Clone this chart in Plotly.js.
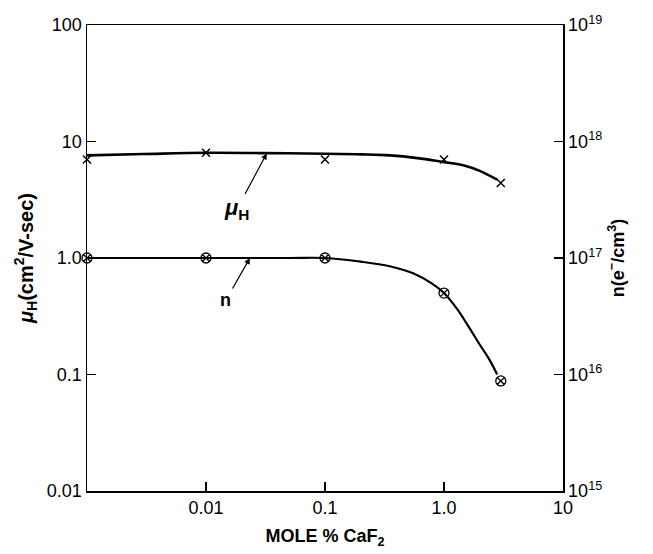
<!DOCTYPE html>
<html>
<head>
<meta charset="utf-8">
<script src="https://cdn.plot.ly/plotly-3.0.1.min.js"></script>
<style>html,body{margin:0;padding:0;background:#fff}#chart{width:653px;height:554px}</style>
</head>
<body>
<div id="chart"></div>
<script>
// Measured points (mole % CaF2)
var pointX = [0.001, 0.01, 0.1, 1.0, 3.0];
var muH = [7.0, 8.0, 7.0, 7.0, 4.4];               // cm^2/V-sec
var nE = [1.0e17, 1.0e17, 1.0e17, 5.0e16, 8.8e15];   // e-/cm^3

// Hand-drawn smooth curves
var muCurveX = [0.001, 0.003, 0.01, 0.03, 0.1, 0.2, 0.35, 0.6, 0.95, 1.5, 2.0, 2.8];
var muCurveY = [7.6, 7.8, 8.0, 7.95, 7.85, 7.75, 7.6, 7.2, 6.7, 6.2, 5.6, 4.7];
var nCurveX = [0.001, 0.01, 0.05, 0.1, 0.2, 0.35, 0.55, 0.8, 1.0, 1.3, 1.6, 2.0, 2.4, 2.8];
var nCurveY = [1.0e17, 1.0e17, 1.0e17, 1.0e17, 9.3e16, 8.5e16, 7.4e16, 6.0e16, 5.0e16, 3.6e16, 2.6e16, 1.8e16, 1.35e16, 1.0e16];

var xTickVals = [0.01, 0.1, 1, 10];
var xTickText = ['0.01', '0.1', '1.0', '10'];
var yTickVals = [0.01, 0.1, 1, 10, 100];
var yTickText = ['0.01', '0.1', '1.0', '10', '100'];
var y2TickVals = [1e15, 1e16, 1e17, 1e18, 1e19];
var y2TickText = ['10<sup>15</sup>', '10<sup>16</sup>', '10<sup>17</sup>', '10<sup>18</sup>', '10<sup>19</sup>'];

var fam = 'Liberation Sans, Arial, sans-serif';
var fnt = {family: fam, size: 18, color: '#000'};

var traces = [
  {x: muCurveX, y: muCurveY, type: 'scatter', mode: 'lines', line: {color: '#000', width: 2.6, shape: 'spline', smoothing: 1}, yaxis: 'y', hoverinfo: 'skip'},
  {x: pointX, y: muH, type: 'scatter', mode: 'markers', marker: {symbol: 'x-thin-open', size: 8, line: {color: '#000', width: 1.5}, color: '#000'}, cliponaxis: false, yaxis: 'y'},
  {x: nCurveX, y: nCurveY, type: 'scatter', mode: 'lines', line: {color: '#000', width: 2.2, shape: 'spline', smoothing: 1}, yaxis: 'y2', hoverinfo: 'skip'},
  {x: pointX, y: nE, type: 'scatter', mode: 'markers', marker: {symbol: 'circle-x-open', size: 10, line: {color: '#000', width: 1.3}, color: '#000'}, cliponaxis: false, yaxis: 'y2'}
];

var layout = {
  width: 653, height: 554,
  margin: {l: 87, r: 90, t: 25, b: 63},
  paper_bgcolor: '#fff', plot_bgcolor: '#fff',
  showlegend: false,
  font: fnt,
  xaxis: {
    type: 'log', range: [-3, 1], tickvals: xTickVals, ticktext: xTickText,
    ticks: 'inside', ticklen: 9, tickwidth: 1.3, tickcolor: '#000',
    showline: true, linecolor: '#000', linewidth: 1.5, mirror: true,
    showgrid: false, zeroline: false, tickfont: fnt,
    title: {text: '<b>MOLE % CaF<sub>2</sub></b>', font: {family: fam, size: 18, color: '#000'}, standoff: 12}
  },
  yaxis: {
    type: 'log', range: [-2, 2], tickvals: yTickVals, ticktext: yTickText,
    ticks: 'inside', ticklen: 9, tickwidth: 1.3, tickcolor: '#000',
    showline: true, linecolor: '#000', linewidth: 1.5,
    showgrid: false, zeroline: false, tickfont: fnt,
    title: {text: '<b><i>μ</i><sub>H</sub>(cm<sup>2</sup>/V-sec)</b>', font: {family: fam, size: 20, color: '#000'}, standoff: 8}
  },
  yaxis2: {
    type: 'log', range: [15, 19], overlaying: 'y', side: 'right',
    tickvals: y2TickVals, ticktext: y2TickText,
    ticks: 'inside', ticklen: 9, tickwidth: 1.3, tickcolor: '#000',
    showline: true, linecolor: '#000', linewidth: 1.5,
    showgrid: false, zeroline: false, tickfont: fnt,
    title: {text: '<b>n(e<sup>−</sup>/cm<sup>3</sup>)</b>', font: {family: fam, size: 18, color: '#000'}, standoff: 10}
  },
  annotations: [
    {x: Math.log10(0.0324), y: Math.log10(7.9), xref: 'x', yref: 'y', text: '<b><i>μ</i><sub>H</sub></b>',
     font: {family: fam, size: 22, color: '#000'}, showarrow: true, arrowhead: 2, arrowsize: 1, arrowwidth: 1.2,
     arrowcolor: '#000', ax: -30, ay: 56},
    {x: Math.log10(0.0234), y: 0, xref: 'x', yref: 'y', text: '<b>n</b>',
     font: {family: fam, size: 18, color: '#000'}, showarrow: true, arrowhead: 2, arrowsize: 1, arrowwidth: 1.2,
     arrowcolor: '#000', ax: -24, ay: 42}
  ]
};

Plotly.newPlot('chart', traces, layout, {staticPlot: true, displayModeBar: false});
</script>
</body>
</html>
